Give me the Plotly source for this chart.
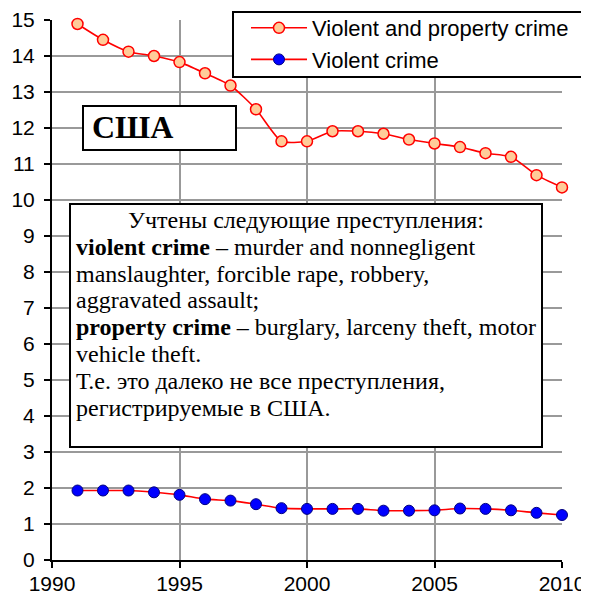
import plotly.graph_objects as go

years = list(range(1991, 2011))
violent_property = [14.89, 14.45, 14.12, 14.00, 13.83, 13.52, 13.18, 12.52, 11.63, 11.63,
                    11.91, 11.91, 11.84, 11.68, 11.57, 11.47, 11.30, 11.20, 10.69, 10.35]
violent = [1.93, 1.93, 1.93, 1.88, 1.81, 1.69, 1.65, 1.55, 1.44, 1.42,
           1.42, 1.42, 1.37, 1.37, 1.38, 1.43, 1.42, 1.38, 1.31, 1.25]
series_names = ["Violent and property crime", "Violent crime"]
x_ticks = [1990, 1995, 2000, 2005, 2010]
y_ticks = list(range(0, 16))

# page offset of the figure (default body margin)
OFF = 8
W, H = 589 - OFF, 594 - OFF
# plot area in page pixels
L, R, T, B = 52, 562, 20, 560


def px(x):
    return (x - L) / (R - L)


def py(y):
    return (B - y) / (B - T)


fig = go.Figure()
fig.add_trace(go.Scatter(
    x=years, y=violent_property, name=series_names[0], mode="lines+markers",
    line=dict(color="#ff0000", width=1.6, shape="spline", smoothing=0.6),
    marker=dict(size=11, color="#ffcc99", line=dict(color="#ff0000", width=1.5)),
    cliponaxis=False,
))
fig.add_trace(go.Scatter(
    x=years, y=violent, name=series_names[1], mode="lines+markers",
    line=dict(color="#ff0000", width=1.6, shape="spline", smoothing=0.6),
    marker=dict(size=11, color="#0000ff", line=dict(color="#000080", width=1)),
    cliponaxis=False,
))

shapes = [
    # legend frame
    dict(type="rect", xref="paper", yref="paper", x0=px(233), x1=px(583), y0=py(77), y1=py(12),
         fillcolor="white", line=dict(color="black", width=2), layer="above"),
    dict(type="rect", xref="paper", yref="paper", x0=px(83), x1=px(236), y0=py(150), y1=py(106),
         fillcolor="white", line=dict(color="black", width=2), layer="above"),
    dict(type="rect", xref="paper", yref="paper", x0=px(70), x1=px(542), y0=py(447), y1=py(204),
         fillcolor="white", line=dict(color="black", width=2), layer="above"),
]

serif = "Liberation Serif, Times New Roman, serif"
annotations = [
    dict(xref="paper", yref="paper", x=px(90), y=py(127), xanchor="left", yanchor="middle",
         text="<b>США</b>", showarrow=False, font=dict(family=serif, size=32, color="black")),
    dict(xref="paper", yref="paper", x=px(306), y=py(220), xanchor="center", yanchor="middle",
         text="Учтены следующие преступления:", showarrow=False,
         font=dict(family=serif, size=24, color="black")),
]
lines = [
    "<b>violent crime</b> – murder and nonnegligent",
    "manslaughter, forcible rape, robbery,",
    "aggravated assault;",
    "<b>property crime</b> – burglary, larceny theft, motor",
    "vehicle theft.",
    "Т.е. это далеко не все преступления,",
    "регистрируемые в США.",
]
for i, t in enumerate(lines):
    annotations.append(dict(
        xref="paper", yref="paper", x=px(74), y=py(220 + 26.8 * (i + 1)),
        xanchor="left", yanchor="middle", text=t, showarrow=False,
        font=dict(family=serif, size=24, color="black")))

axis_common = dict(
    showline=True, linecolor="black", linewidth=2,
    ticks="outside", ticklen=6, tickwidth=2, tickcolor="black",
    showgrid=True, gridcolor="#999999", gridwidth=2,
    zeroline=False, automargin=False,
    tickfont=dict(family="Liberation Sans, Arial, sans-serif", size=21, color="black"),
)

fig.update_layout(
    width=W, height=H,
    margin=dict(l=L - OFF, r=W - (R - OFF), t=T - OFF, b=H - (B - OFF), autoexpand=False),
    paper_bgcolor="white", plot_bgcolor="white",
    xaxis=dict(range=[1990, 2010], tickvals=x_ticks, ticklabelstandoff=-2, **axis_common),
    yaxis=dict(range=[0, 15], tickvals=y_ticks, ticklabelstandoff=5, **axis_common),
    legend=dict(
        x=px(246), y=py(7), xanchor="left", yanchor="top",
        bgcolor="rgba(0,0,0,0)", borderwidth=0,
        font=dict(family="Liberation Sans, Arial, sans-serif", size=22, color="black"),
        itemwidth=56, tracegroupgap=0,
    ),
    shapes=shapes,
    annotations=annotations,
)

fig.write_html("out.html")
